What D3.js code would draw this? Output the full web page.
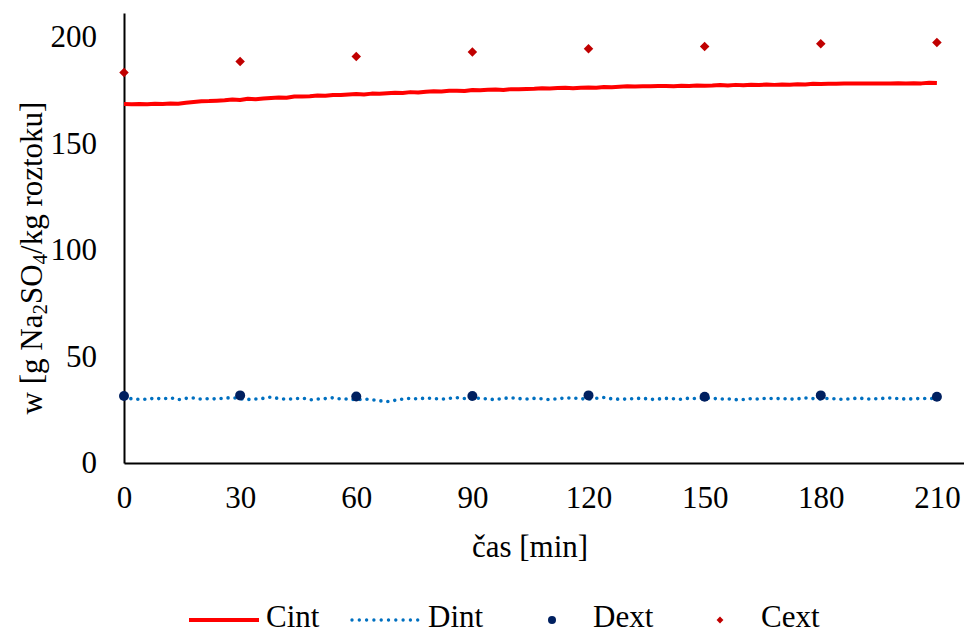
<!DOCTYPE html>
<html>
<head>
<meta charset="utf-8">
<script src="https://cdn.jsdelivr.net/npm/d3@7"></script>
<style>
  body { margin: 0; background: #fff; }
</style>
</head>
<body>
<div id="chart"></div>
<script>
// Cint and Dint are logged every 2 minutes
var intTime = d3.range(0, 211, 2);

var cint = [
  168.3, 168.2, 168.3, 168.2, 168.4, 168.3, 168.6, 168.5, 168.9, 169.3,
  169.6, 169.7, 169.9, 170.1, 170.4, 170.2, 170.8, 170.6, 170.9, 171.2,
  171.4, 171.3, 171.8, 171.9, 172.0, 172.3, 172.2, 172.6, 172.5, 172.8,
  173.0, 172.8, 173.2, 173.1, 173.4, 173.6, 173.5, 173.9, 173.7, 174.1,
  174.3, 174.2, 174.5, 174.6, 174.4, 174.9, 174.8, 175.0, 175.1, 174.9,
  175.3, 175.2, 175.4, 175.5, 175.7, 175.6, 175.8, 175.9, 175.7, 176.0,
  176.1, 176.0, 176.3, 176.2, 176.4, 176.6, 176.5, 176.7, 176.6, 176.8,
  176.8, 176.7, 176.9, 176.8, 177.0, 176.9, 177.0, 177.2, 177.0, 177.3,
  177.1, 177.4, 177.2, 177.5, 177.3, 177.5, 177.4, 177.6, 177.5, 177.8,
  177.7, 177.8, 177.8, 178.0, 177.9, 177.9, 178.0, 177.9, 178.0, 178.0,
  178.1, 178.0, 178.1, 178.0, 178.3, 178.2
];

var dint = [
  30.8, 30.1, 29.8, 29.9, 30.4, 30.0, 30.6, 29.7, 30.3, 30.5,
  29.9, 30.2, 30.0, 30.4, 30.7, 30.1, 29.8, 30.0, 30.3, 30.9,
  30.2, 29.9, 30.1, 30.5, 29.6, 30.0, 30.2, 30.6, 30.0, 30.0,
  29.6, 30.0, 29.7, 29.2, 28.8, 29.4, 30.0, 30.3, 30.0, 30.5,
  30.2, 29.9, 30.3, 30.6, 30.2, 30.1, 30.4, 30.0, 29.7, 30.3,
  30.6, 30.2, 30.0, 30.3, 30.1, 29.7, 30.2, 30.4, 30.5, 30.1,
  30.0, 30.3, 30.7, 30.1, 29.9, 30.0, 30.2, 30.4, 29.8, 30.0,
  30.3, 30.1, 29.9, 30.4, 30.2, 30.5, 30.3, 30.0, 30.1, 29.7,
  29.8, 30.2, 30.0, 30.4, 30.1, 30.3, 29.9, 30.1, 30.5, 30.2,
  30.0, 30.3, 30.1, 29.8, 30.2, 30.4, 30.0, 30.1, 30.3, 30.5,
  30.2, 30.0, 30.1, 30.3, 30.2, 30.4
];

// samples every 30 min
var extTime = [0, 30, 60, 90, 120, 150, 180, 210];
var cext = [183.1, 188.3, 190.6, 192.7, 194.2, 195.3, 196.6, 197.2];
var dext = [31.4, 31.7, 31.2, 31.4, 31.7, 31.1, 31.7, 31.1];

var xTicks = [0, 30, 60, 90, 120, 150, 180, 210];
var yTicks = [0, 50, 100, 150, 200];

var width = 964;
var height = 634;
var font = "Liberation Serif";

var svg = d3.select("#chart").append("svg")
  .attr("width", width).attr("height", height)
  .attr("font-family", font);

var x = d3.scaleLinear().domain([0, 217]).range([124, 964]);
var y = d3.scaleLinear().domain([0, 211]).range([463, 13]);

// axes
var yAxis = svg.append("g").attr("transform", "translate(124,0)")
  .call(d3.axisLeft(y).tickValues(yTicks).tickSize(0).tickPadding(27));
var xAxis = svg.append("g").attr("transform", "translate(0,463)")
  .call(d3.axisBottom(x).tickValues(xTicks).tickSize(0).tickPadding(23));

svg.selectAll(".domain").attr("stroke", "#000").attr("stroke-width", 2);
yAxis.attr("font-family", font).attr("font-size", 31);
xAxis.attr("font-family", font).attr("font-size", 31);
svg.selectAll(".tick text").attr("fill", "#000");

// Dint dotted line
var dLine = d3.line().x((d, i) => x(intTime[i])).y(d => y(d));
svg.append("path")
  .datum(dint)
  .attr("d", dLine)
  .attr("fill", "none")
  .attr("stroke", "#0070C0")
  .attr("stroke-width", 3.6)
  .attr("stroke-linecap", "round")
  .attr("stroke-dasharray", "0 7");

// Cint line
var cLine = d3.line().x((d, i) => x(intTime[i])).y(d => y(d));
svg.append("path")
  .datum(cint)
  .attr("d", cLine)
  .attr("fill", "none")
  .attr("stroke", "#FF0000")
  .attr("stroke-width", 4)
  .attr("stroke-linejoin", "round");

// Dext dots
svg.append("g").selectAll("circle")
  .data(dext)
  .enter()
  .append("circle")
  .attr("cx", (d, i) => x(extTime[i]))
  .attr("cy", d => y(d))
  .attr("r", 5)
  .attr("fill", "#002060");

// Cext diamonds
var diamond = d3.symbol().type(d3.symbolDiamond2).size(58);
svg.append("g").selectAll("path")
  .data(cext)
  .enter()
  .append("path")
  .attr("d", diamond)
  .attr("transform", (d, i) => "translate(" + x(extTime[i]) + "," + y(d) + ")")
  .attr("fill", "#C00000");

// axis titles
svg.append("text")
  .attr("x", 530).attr("y", 557)
  .attr("text-anchor", "middle")
  .attr("font-size", 31)
  .text("čas [min]");

var yTitle = svg.append("text")
  .attr("transform", "translate(42,258) rotate(-90)")
  .attr("text-anchor", "middle")
  .attr("font-size", 31);
yTitle.append("tspan").text("w [g Na");
yTitle.append("tspan").attr("baseline-shift", "-25%").attr("font-size", 21).text("2");
yTitle.append("tspan").text("SO");
yTitle.append("tspan").attr("baseline-shift", "-25%").attr("font-size", 21).text("4");
yTitle.append("tspan").text("/kg roztoku]");

// legend
var legend = svg.append("g");
var ly = 620;
legend.append("line")
  .attr("x1", 189).attr("x2", 259).attr("y1", ly).attr("y2", ly)
  .attr("stroke", "#FF0000").attr("stroke-width", 4);
legend.append("line")
  .attr("x1", 352).attr("x2", 418).attr("y1", ly).attr("y2", ly)
  .attr("stroke", "#0070C0").attr("stroke-width", 3.4)
  .attr("stroke-linecap", "round").attr("stroke-dasharray", "0 7.3");
legend.append("circle").attr("cx", 552).attr("cy", ly).attr("r", 4).attr("fill", "#002060");
legend.append("path")
  .attr("d", d3.symbol().type(d3.symbolDiamond2).size(30))
  .attr("transform", "translate(720," + ly + ")")
  .attr("fill", "#C00000");

var legendText = [["Cint", 266], ["Dint", 428], ["Dext", 593], ["Cext", 761]];
legend.selectAll("text")
  .data(legendText)
  .enter()
  .append("text")
  .attr("x", d => d[1])
  .attr("y", 627)
  .attr("font-size", 31)
  .text(d => d[0]);
</script>
</body>
</html>
